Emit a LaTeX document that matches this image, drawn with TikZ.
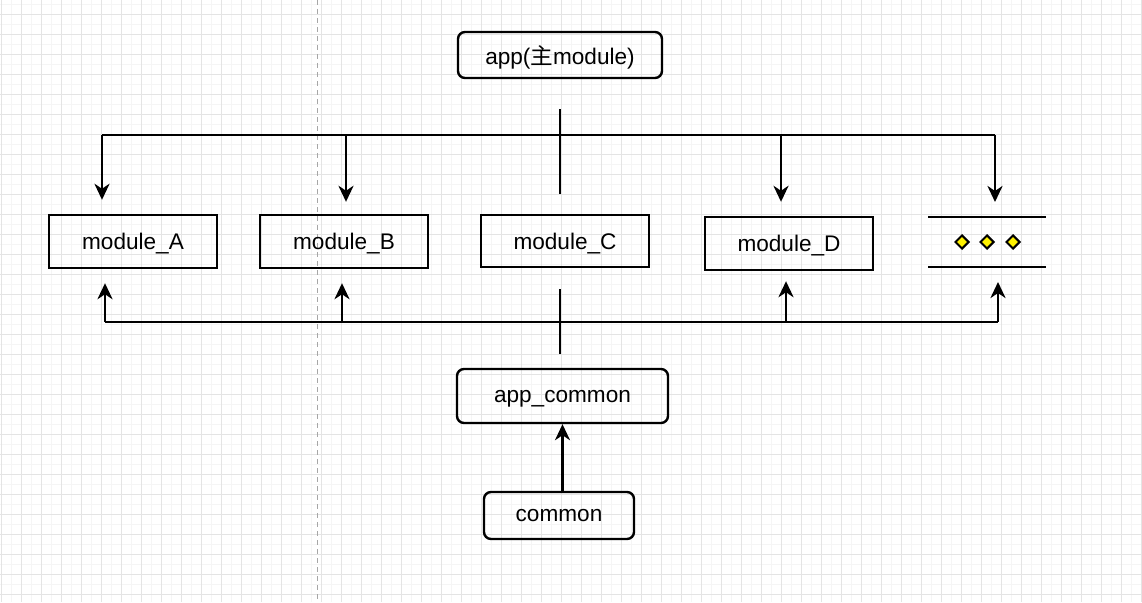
\documentclass[tikz,border=0pt]{standalone}
\usepackage{fontspec}
\setmainfont{Liberation Sans}
\newfontfamily\cjk{Noto Sans CJK SC}
\usetikzlibrary{arrows.meta,shapes.geometric,calc}
\definecolor{gridminor}{HTML}{F5F5F5}
\definecolor{gridmajor}{HTML}{E4E4E4}
\definecolor{ink}{HTML}{000000}
\begin{document}
\begin{tikzpicture}[x=1pt,y=-1pt,
  box/.style={draw=ink,line width=2.4pt,text=ink,inner sep=0pt,text depth=0pt,font=\fontsize{22.6}{27}\selectfont},
  rbox/.style={box,rounded corners=7pt},
  bus/.style={draw=ink,line width=2.9pt},
  arr/.style={bus,-{Stealth[length=16pt,width=15pt,inset=5pt]}},
  dia/.style={diamond,draw=ink,fill=yellow,line width=2pt,minimum width=14pt,minimum height=14pt,inner sep=0pt}
]
\useasboundingbox (0,0) rectangle (1142,602);
\fill[white] (0,0) rectangle (1142,602);
\foreach \x in {11,31,...,1141} \draw[gridminor,line width=0.6pt] (\x,0) -- (\x,602);
\foreach \y in {4,24,...,602} \draw[gridminor,line width=0.6pt] (0,\y) -- (1142,\y);
\foreach \x in {1,21,...,1141} \draw[gridmajor,line width=0.8pt] (\x,0) -- (\x,602);
\foreach \y in {14,34,...,602} \draw[gridmajor,line width=0.8pt] (0,\y) -- (1142,\y);
\draw[gray!70,line width=0.8pt,dash pattern=on 5pt off 4pt] (317,0) -- (317,602);

% nodes
\node[rbox,minimum width=204pt,minimum height=46pt] (app) at (560,55) {app({\cjk 主}module)};
\node[box,minimum width=168pt,minimum height=53pt] (modA) at (133,241.5) {module\_A};
\node[box,minimum width=168pt,minimum height=53pt] (modB) at (344,241.5) {module\_B};
\node[box,minimum width=168pt,minimum height=52pt] (modC) at (565,241) {module\_C};
\node[box,minimum width=168pt,minimum height=53pt] (modD) at (789,243.5) {module\_D};
\node[rbox,minimum width=211pt,minimum height=54pt] (appc) at (562.5,396) {app\_common};
\node[rbox,minimum width=150pt,minimum height=47pt] (comm) at (559,515.5) {common};

% "more" element
\coordinate (mtl) at (928,217);
\coordinate (mtr) at (1046,217);
\coordinate (mbl) at (928,267);
\coordinate (mbr) at (1046,267);
\draw[bus] (mtl) -- (mtr);
\draw[bus] (mbl) -- (mbr);
\node[dia] (d1) at (962,242) {};
\node[dia] (d2) at (987,242) {};
\node[dia] (d3) at (1013,242) {};

% top bus
\coordinate (tA) at (102,135);
\coordinate (tB) at (346,135);
\coordinate (tD) at (781,135);
\coordinate (tE) at (995,135);
\draw[bus] (tA) -- (tE);
\draw[bus,shorten <=30pt,shorten >=20pt] (app.south) -- (app.south |- modC.north);
\draw[arr,shorten >=14pt] (tA) -- (tA |- modA.north);
\draw[arr,shorten >=12pt] (tB) -- (tB |- modB.north);
\draw[arr,shorten >=14pt] (tD) -- (tD |- modD.north);
\draw[arr,shorten >=15pt] (tE) -- (tE |- mtl);

% bottom bus
\coordinate (bA) at (105,322);
\coordinate (bB) at (342,322);
\coordinate (bD) at (786,322);
\coordinate (bE) at (998,322);
\draw[bus] (bA) -- (bE);
\draw[bus,shorten <=21pt,shorten >=14pt] (app.south |- modC.south) -- (app.south |- appc.north);
\draw[arr,shorten >=14pt] (bA) -- (bA |- modA.south);
\draw[arr,shorten >=14pt] (bB) -- (bB |- modB.south);
\draw[arr,shorten >=10pt] (bD) -- (bD |- modD.south);
\draw[arr,shorten >=15pt] (bE) -- (bE |- mbl);

% common -> app_common
\draw[arr,line width=2.4pt] (appc.south |- comm.north) -- (appc.south);
\end{tikzpicture}
\end{document}
